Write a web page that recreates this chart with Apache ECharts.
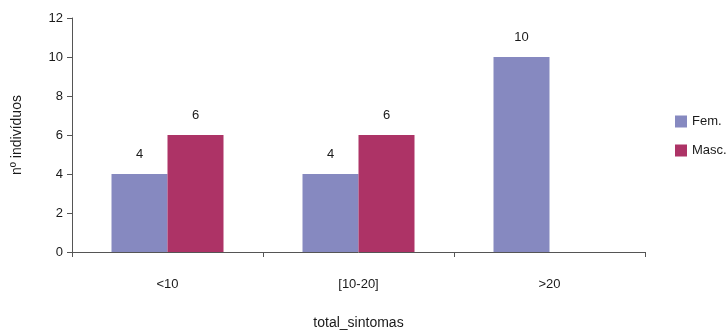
<!DOCTYPE html>
<html><head><meta charset="utf-8">
<script src="https://cdn.jsdelivr.net/npm/echarts@6/dist/echarts.min.js"></script>
<style>html,body{margin:0;padding:0;background:#fff}#c{width:727px;height:332px}</style>
</head><body><div id="c"></div>
<script>
const categories = ['<10', '[10-20]', '>20'];
const fem = [4, 4, 10];
const masc = [6, 6, 0];
const yTicks = [0, 2, 4, 6, 8, 10, 12];

const font = 'Liberation Sans, Arial, sans-serif';
const chart = echarts.init(document.getElementById('c'));
const lbl = {
  show: true, position: 'top', distance: 13, color: '#1a1a1a', fontSize: 13, fontFamily: font,
  formatter: p => (p.value === 0 ? '' : p.value)
};
chart.setOption({
  animation: false,
  grid: { left: 72, right: 82, top: 18, bottom: 80, outerBoundsMode: 'none', containLabel: false },
  legend: {
    orient: 'vertical', left: 670, top: 110, itemWidth: 12, itemHeight: 12, itemGap: 16,
    icon: 'rect',
    textStyle: { fontFamily: font, fontSize: 13, color: '#1a1a1a' },
    data: ['Fem.', 'Masc.']
  },
  xAxis: {
    type: 'category', data: categories,
    name: 'total_sintomas', nameLocation: 'middle', nameGap: 64,
    nameTextStyle: { fontFamily: font, fontSize: 14, color: '#1a1a1a' },
    axisLine: { lineStyle: { color: '#555' } },
    axisTick: { show: true, length: 5, lineStyle: { color: '#555' } },
    axisLabel: { fontFamily: font, fontSize: 13, color: '#1a1a1a', margin: 26 }
  },
  yAxis: {
    type: 'value', min: yTicks[0], max: yTicks[yTicks.length - 1], interval: 2,
    name: 'nº indivíduos', nameLocation: 'middle', nameGap: 48,
    nameTextStyle: { fontFamily: font, fontSize: 14, color: '#1a1a1a' },
    axisLine: { show: true, lineStyle: { color: '#555' } },
    axisTick: { show: true, length: 5, lineStyle: { color: '#555' } },
    splitLine: { show: false },
    axisLabel: { fontFamily: font, fontSize: 13, color: '#1a1a1a', margin: 9 }
  },
  series: [
    { name: 'Fem.', type: 'bar', data: fem, barWidth: 56, barGap: '0%',
      itemStyle: { color: '#8689C0' }, label: lbl },
    { name: 'Masc.', type: 'bar', data: masc, barWidth: 56,
      itemStyle: { color: '#AD3366' }, label: lbl }
  ]
});
</script></body></html>
